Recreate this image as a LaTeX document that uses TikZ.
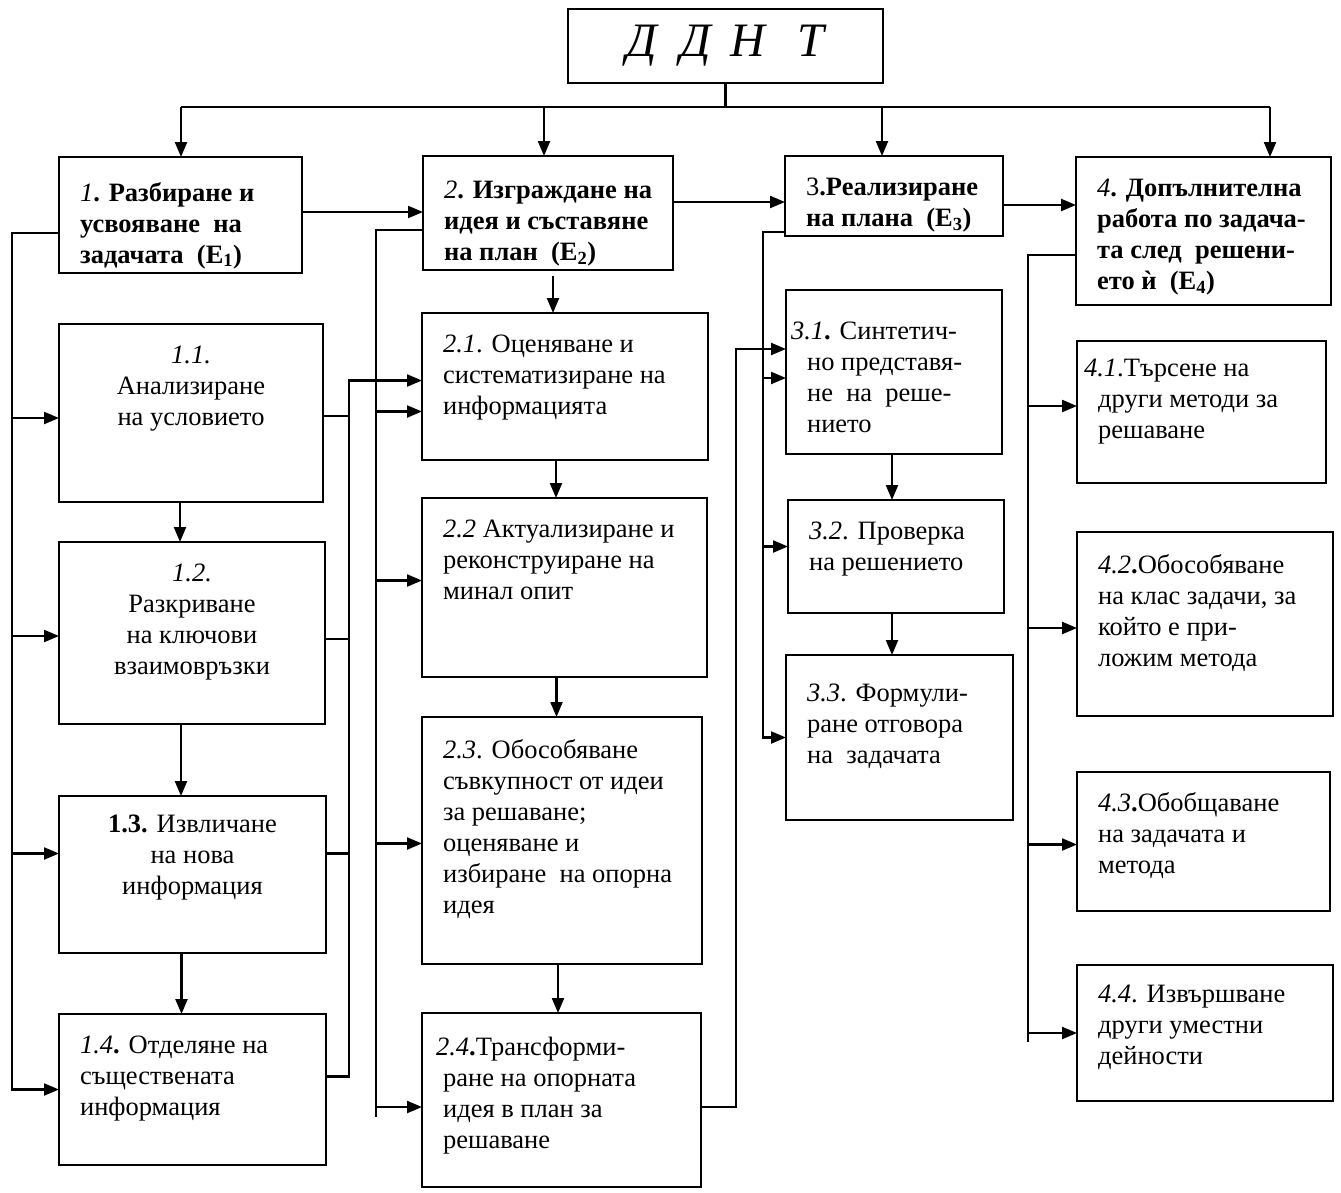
\documentclass[tikz,border=0pt]{standalone}
\usepackage{fontspec}
\setmainfont{Liberation Serif}
\usetikzlibrary{arrows.meta,calc}
\tikzset{%
        box/.style={draw, anchor=north west, inner sep=0pt, outer sep=0pt},
        wh/.style 2 args={minimum width=#1pt, minimum height=#2pt},
        txt/.style={anchor=north west, align=left, inner xsep=20pt, inner ysep=21pt,
                font=\fontsize{26.5}{31}\selectfont},
        ctxt/.style={txt, anchor=north, align=center},
        htxt/.style={txt, inner ysep=24pt, font=\fontsize{26.5}{31}\selectfont\bfseries},
        arr/.style={-{Triangle[length=15pt,width=12pt]}}
}

\begin{document}
\begin{tikzpicture}[x=1pt, y=-1pt, line width=2.2pt]
        \useasboundingbox (0,0) rectangle (1341,1192);

        % top
        \node[box, wh={315}{74}, font=\fontsize{48}{50}\selectfont\itshape] (top) at (568,9)
                {Д\hspace{24pt}Д\hspace{19pt}Н\hspace{33pt}Т};

        % stages
        \node[box, wh={243}{116}, label={[htxt]north west:{\textit{\mdseries 1}. Разбиране и\\усвояване\ \ на\\задачата\ \ (E\textsubscript{1})}}] (b1) at (59,157) {};
        \node[box, wh={250}{114}, label={[htxt]north west:{\textit{\mdseries 2}. Изграждане на\\идея и съставяне\\на план\ \ (E\textsubscript{2})}}] (b2) at (423,156) {};
        \node[box, wh={218}{80}, label={[htxt, inner ysep=21pt]north west:{\textmd{3}.Реализиране\\на плана\ \ (E\textsubscript{3})}}] (b3) at (785,156) {};
        \node[box, wh={255}{148}, label={[htxt, inner ysep=21pt]north west:{\textit{\mdseries 4}. Допълнителна\\работа по задача-\\та след\ \ решени-\\ето ѝ\ \ (E\textsubscript{4})}}] (b4) at (1076,157) {};

        % column 1
        \node[box, wh={264}{178}, label={[ctxt]north:{\textit{1.1.}\\Анализиране\\на условието}}] (n11) at (59,324) {};
        \node[box, wh={266}{182}, label={[ctxt]north:{\textit{1.2.}\\Разкриване\\на ключови\\взаимовръзки}}] (n12) at (59,542) {};
        \node[box, wh={267}{157}, label={[ctxt, inner ysep=18pt]north:{\textbf{1.3.} Извличане\\на нова\\информация}}] (n13) at (59,796) {};
        \node[box, wh={267}{151}, label={[txt]north west:{\textit{1.4}\textbf{.} Отделяне на\\съществената\\информация}}] (n14) at (59,1014) {};

        % column 2
        \node[box, wh={286}{147}, label={[txt]north west:{\textit{2.1}. Оценяване и\\систематизиране на\\информацията}}] (n21) at (422,313) {};
        \node[box, wh={285}{179}, label={[txt]north west:{\textit{2.2} Актуализиране и\\реконструиране на\\минал опит}}] (n22) at (422,498) {};
        \node[box, wh={280}{247}, label={[txt]north west:{\textit{2.3}. Обособяване\\съвкупност от идеи\\за решаване;\\оценяване и\\избиране\ \ на опорна\\идея}}] (n23) at (422,717) {};
        \node[box, wh={279}{174}, label={[txt, inner ysep=23pt]north west:{\hspace*{-7pt}\textit{2.4}\textbf{.}Трансформи-\\ране на опорната\\идея в план за\\решаване}}] (n24) at (422,1013) {};

        % column 3
        \node[box, wh={216}{164}, label={[txt, inner ysep=31pt]north west:{\hspace*{-16pt}\textit{3.1}\textbf{.} Синтетич-\\но представя-\\не\ \ на\ \ реше-\\нието}}] (n31) at (786,290) {};
        \node[box, wh={216}{113}, label={[txt]north west:{\textit{3.2}. Проверка\\на решението}}] (n32) at (788,500) {};
        \node[box, wh={227}{165}, label={[txt, inner ysep=28pt]north west:{\textit{3.3}. Формули-\\ране отговора\\на\ \ задачата}}] (n33) at (786,655) {};

        % column 4
        \node[box, wh={249}{142}, label={[txt, inner ysep=17pt]north west:{\hspace*{-14pt}\textit{4.1}.Търсене на\\други методи за\\решаване}}] (n41) at (1077,341) {};
        \node[box, wh={256}{184}, label={[txt]north west:{\textit{4.2}\textbf{.}Обособяване\\на клас задачи, за\\който е при-\\ложим метода}}] (n42) at (1077,532) {};
        \node[box, wh={253}{139}, label={[txt, inner ysep=19pt]north west:{\textit{4.3}\textbf{.}Обобщаване\\на задачата и\\метода}}] (n43) at (1077,772) {};
        \node[box, wh={256}{136}, label={[txt, inner ysep=19pt]north west:{\textit{4.4}. Извършване\\други уместни\\дейности}}] (n44) at (1077,965) {};

        % top bus
        \coordinate (bl) at (181,107);
        \coordinate (br) at (1270,107);
        \coordinate (d2) at (544,107);
        \coordinate (d3) at (882,107);
        \draw (top.south) -- (top.south |- bl);
        \draw (bl) -- (br);
        \foreach \d/\n in {bl/b1, d2/b2, d3/b3, br/b4}
                \draw[arr] (\d) -- (\d |- \n.north);

        % stage to stage
        \draw[arr] ([yshift=3pt]b1.east) -- ([yshift=3pt]b1.east -| b2.west);
        \draw[arr] ([yshift=11pt]b2.east) -- ([yshift=11pt]b2.east -| b3.west);
        \draw[arr] ([yshift=-9pt]b3.east) -- ([yshift=-9pt]b3.east -| b4.west);

        % side buses
        \coordinate (xa) at (12,0);
        \coordinate (xb) at (349,0);
        \coordinate (xc) at (376,0);
        \coordinate (xd) at (736,0);
        \coordinate (xe) at (763,0);
        \coordinate (xf) at (1028,0);

        \draw[arr] ([yshift=-18pt]b1.west) -| (n14.west -| xa) -- (n14.west);
        \foreach \n/\s in {n11/-5, n12/-3, n13/21}
                \draw[arr] ([yshift=\s pt]\n.west -| xa) -- ([yshift=\s pt]\n.west);

        \foreach \n/\s in {n11/-3, n12/-6, n13/21}
                \draw ([yshift=\s pt]\n.east) -- ([yshift=\s pt]\n.east -| xb);
        \draw[arr] ([yshift=13pt]n14.east) -| ([yshift=6pt]n21.west -| xb) -- ([yshift=6pt]n21.west);

        \draw[arr] ([yshift=-17pt]b2.west) -| ([yshift=-7pt]n24.west -| xc) -- ([yshift=-7pt]n24.west);
        \draw ([yshift=-7pt]n24.west -| xc) -- ([yshift=-17pt]n24.west -| xc);
        \foreach \n/\s in {n21/-25, n22/7, n23/-3}
                \draw[arr] ([yshift=\s pt]\n.west -| xc) -- ([yshift=\s pt]\n.west);

        \draw[arr] ([yshift=-7pt]n24.east) -| ([yshift=23pt]n31.west -| xd) -- ([yshift=23pt]n31.west);

        \draw[arr] ([yshift=-36pt]b3.west) -| (n33.west -| xe) -- (n33.west);
        \foreach \n/\s in {n31/-6, n32/10}
                \draw[arr] ([yshift=\s pt]\n.west -| xe) -- ([yshift=\s pt]\n.west);

        \draw[arr] ([yshift=-24pt]b4.west) -| (n44.west -| xf) -- (n44.west);
        \draw (n44.west -| xf) -- ([yshift=-9pt]n44.west -| xf);
        \foreach \n/\s in {n41/6, n42/-4, n43/-3}
                \draw[arr] ([yshift=\s pt]\n.west -| xf) -- ([yshift=\s pt]\n.west);

        % down the columns
        \draw[arr] ([xshift=5pt,yshift=-6pt]b2.south) -- ([xshift=5pt]b2.south |- n21.north);
        \foreach \a/\b/\s in {n11/n12/-11, n12/n13/-11, n13/n14/-11, n21/n22/-9,
                        n22/n23/-8, n23/n24/-4, n31/n32/-2, n32/n33/-4}
                \draw[arr] ([xshift=\s pt]\a.south) -- ([xshift=\s pt]\a.south |- \b.north);
\end{tikzpicture}
\end{document}
